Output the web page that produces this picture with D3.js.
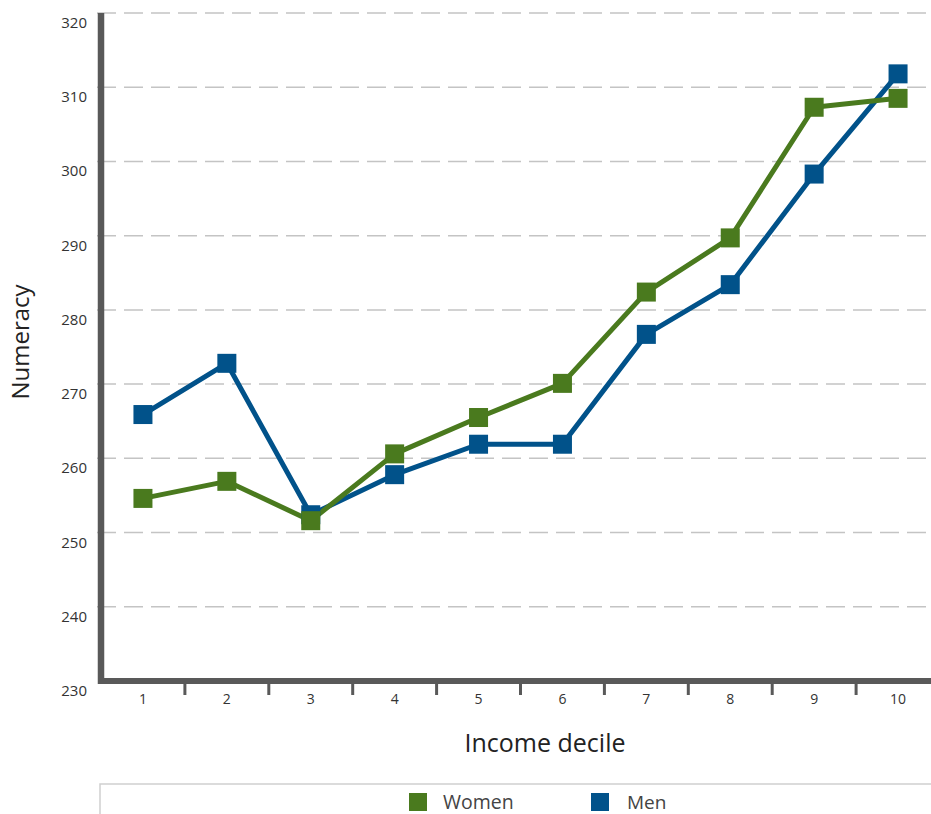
<!DOCTYPE html>
<html>
<head>
<meta charset="utf-8">
<script src="https://cdn.jsdelivr.net/npm/d3@7"></script>
<style>
  html, body { margin: 0; padding: 0; background: #fff; }
  svg { display: block; }
  text { font-family: "Open Sans", "Noto Sans", sans-serif; }
</style>
</head>
<body>
<svg id="chart" width="931" height="814"></svg>
<script>
const deciles = ["1", "2", "3", "4", "5", "6", "7", "8", "9", "10"];
const women = [254.6, 256.9, 251.6, 260.6, 265.5, 270.1, 282.4, 289.7, 307.3, 308.5];
const men   = [265.9, 272.8, 252.4, 257.8, 261.9, 261.9, 276.7, 283.4, 298.3, 311.8];
const yTicks = [230, 240, 250, 260, 270, 280, 290, 300, 310, 320];
const seriesNames = ["Women", "Men"];
const seriesColors = ["#4a7a1e", "#01528a"];

const svg = d3.select("#chart");
const W = 931, H = 814;

const x = d3.scaleBand().domain(deciles).range([101, 940]).padding(0);
const y = d3.scaleLinear().domain([230, 320]).range([681, 13]);

// gridlines
svg.append("g").selectAll("line")
  .data(yTicks.filter(d => d > 230))
  .join("line")
  .attr("x1", 97).attr("x2", W)
  .attr("y1", d => y(d)).attr("y2", d => y(d))
  .attr("stroke", "#c4c4c4")
  .attr("stroke-width", 1.5)
  .attr("stroke-dasharray", "19,8");

// y tick labels
svg.append("g").selectAll("text")
  .data(yTicks)
  .join("text")
  .attr("x", 87)
  .attr("y", d => y(d) + 15)
  .attr("text-anchor", "end")
  .attr("font-size", 15)
  .attr("fill", "#333")
  .text(d => d);

// x axis ticks (between bands)
const bounds = deciles.slice(1).map(d => x(d));
svg.append("g").selectAll("line")
  .data(bounds)
  .join("line")
  .attr("x1", d => d).attr("x2", d => d)
  .attr("y1", 681).attr("y2", 695)
  .attr("stroke", "#595959")
  .attr("stroke-width", 3);

// x tick labels
svg.append("g").selectAll("text")
  .data(deciles)
  .join("text")
  .attr("x", d => x(d) + x.bandwidth() / 2)
  .attr("y", 704)
  .attr("text-anchor", "middle")
  .attr("font-size", 14)
  .attr("fill", "#333")
  .text(d => d);

// axes lines
svg.append("line")
  .attr("x1", 101).attr("x2", 101)
  .attr("y1", 13).attr("y2", 684)
  .attr("stroke", "#595959").attr("stroke-width", 6.5);
svg.append("line")
  .attr("x1", 98).attr("x2", W)
  .attr("y1", 681).attr("y2", 681)
  .attr("stroke", "#595959").attr("stroke-width", 6);

// axis titles
svg.append("text")
  .attr("transform", "translate(29,342) rotate(-90)")
  .attr("text-anchor", "middle")
  .attr("font-size", 24)
  .attr("fill", "#222")
  .text("Numeracy");
svg.append("text")
  .attr("x", 545).attr("y", 752)
  .attr("text-anchor", "middle")
  .attr("font-size", 25)
  .attr("fill", "#222")
  .text("Income decile");

// series
const seriesData = [men, women];
const seriesIdx = [1, 0];
const line = d3.line()
  .x((d, i) => x(deciles[i]) + x.bandwidth() / 2)
  .y(d => y(d));

seriesIdx.forEach((si, k) => {
  svg.append("path")
    .datum(seriesData[k])
    .attr("fill", "none")
    .attr("stroke", seriesColors[si])
    .attr("stroke-width", 5)
    .attr("stroke-linejoin", "round")
    .attr("d", line);
});
const S = 19;
seriesIdx.forEach((si, k) => {
  svg.append("g").selectAll("rect")
    .data(seriesData[k])
    .join("rect")
    .attr("x", (d, i) => x(deciles[i]) + x.bandwidth() / 2 - S / 2)
    .attr("y", d => y(d) - S / 2)
    .attr("width", S).attr("height", S)
    .attr("fill", seriesColors[si]);
});

// legend
svg.append("rect")
  .attr("x", 100).attr("y", 784)
  .attr("width", 840).attr("height", 40)
  .attr("fill", "none")
  .attr("stroke", "#cfcfcf")
  .attr("stroke-width", 1.5);
const legendX = [409, 591];
const legendTextX = [443, 627];
const legendFont = [19.5, 19];
seriesNames.forEach((name, i) => {
  svg.append("rect")
    .attr("x", legendX[i]).attr("y", 793)
    .attr("width", 18).attr("height", 18)
    .attr("fill", seriesColors[i]);
  svg.append("text")
    .attr("x", legendTextX[i]).attr("y", 809)
    .attr("font-size", legendFont[i])
    .attr("fill", "#444")
    .text(name);
});
</script>
</body>
</html>
